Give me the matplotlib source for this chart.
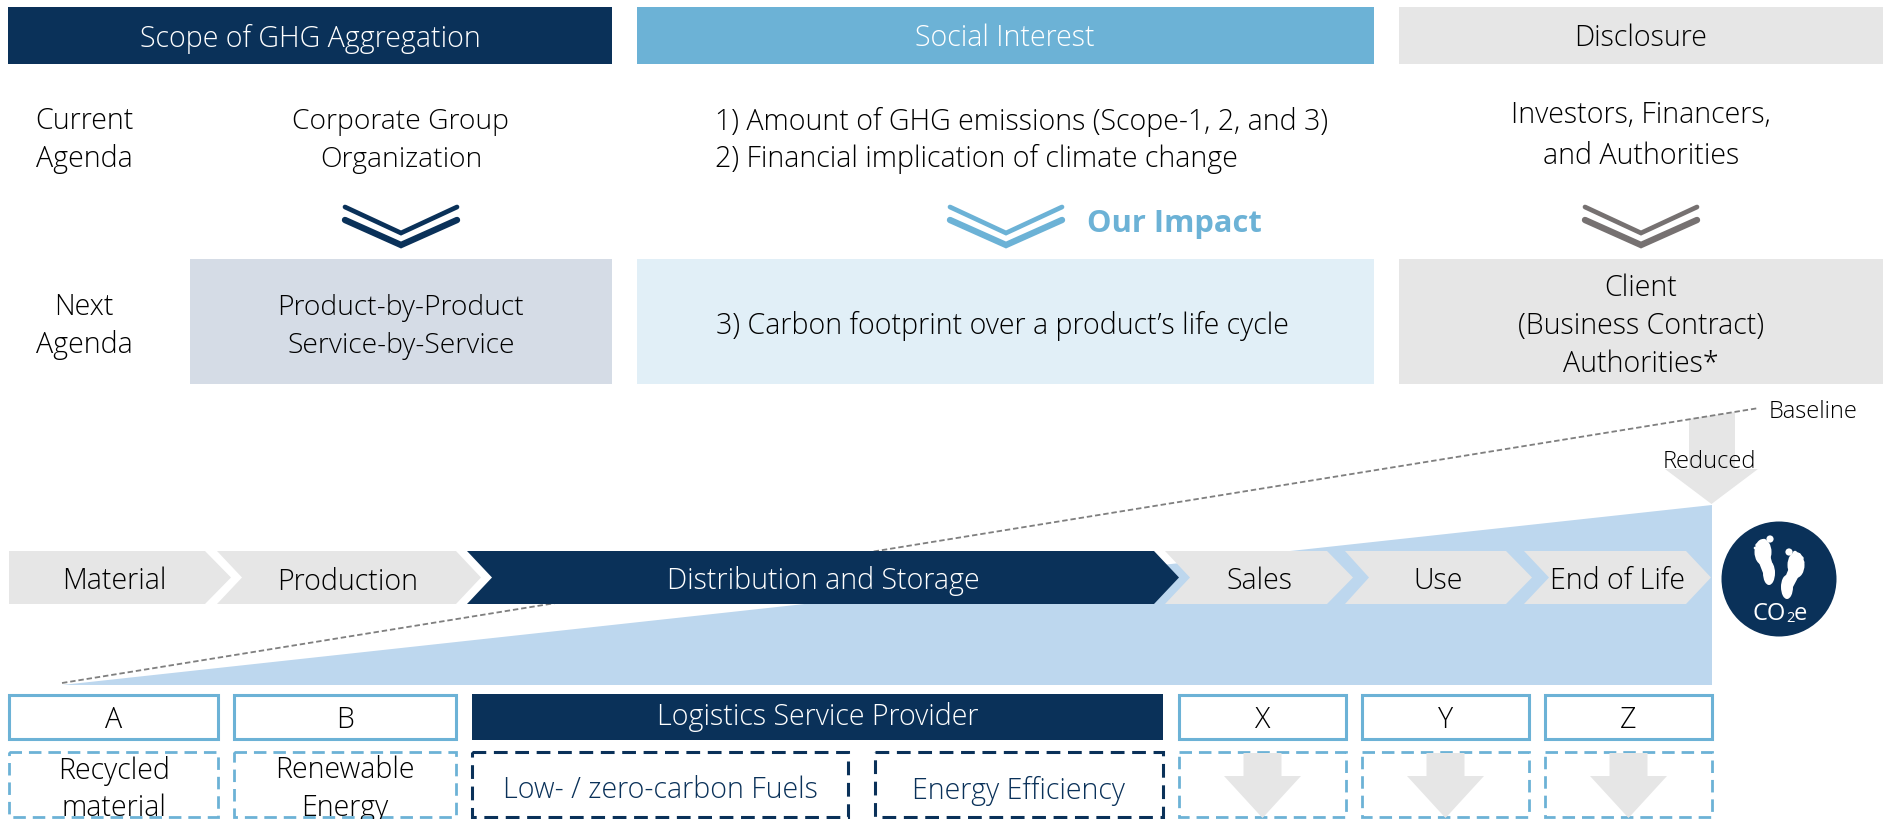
import matplotlib
matplotlib.use('Agg')
import matplotlib.pyplot as plt
from matplotlib.patches import Rectangle, Polygon, Circle, Ellipse

NAVY = '#0A3159'
SKY = '#6CB2D6'
GREY = '#E6E6E6'
AREA = '#BDD7EE'
INK = '#000000'

headers = ['Scope of GHG Aggregation', 'Social Interest', 'Disclosure']
row_names = [['Current', 'Agenda'], ['Next', 'Agenda']]
current = [['Corporate Group', 'Organization'],
           ['1) Amount of GHG emissions (Scope-1, 2, and 3)', '2) Financial implication of climate change'],
           ['Investors, Financers,', 'and Authorities']]
nextup = [['Product-by-Product', 'Service-by-Service'],
          ['3) Carbon footprint over a product\u2019s life cycle'],
          ['Client', '(Business Contract)', 'Authorities*']]
stages = ['Material', 'Production', 'Distribution and Storage', 'Sales', 'Use', 'End of Life']
actors = ['A', 'B', 'Logistics Service Provider', 'X', 'Y', 'Z']
levers = [['Recycled', 'material'], ['Renewable', 'Energy'], ['Low- / zero-carbon Fuels'], ['Energy Efficiency']]

plt.rcParams['font.family'] = ['Open Sans', 'DejaVu Sans']
plt.rcParams['font.weight'] = 'light'

fig = plt.figure(figsize=(18.87, 8.19), dpi=100)
ax = fig.add_axes([0, 0, 1, 1])
ax.set_xlim(0, 1887)
ax.set_ylim(819, 0)
ax.axis('off')


def box(x0, y0, x1, y1, fc, ec='none', lw=0, ls='-', z=2):
    ax.add_patch(Rectangle((x0, y0), x1 - x0, y1 - y0, fc=fc, ec=ec, lw=lw, ls=ls, zorder=z))


def label(x, ys, lines, color=INK, size=20.6, ha='center'):
    for y, s in zip(ys, lines):
        # open sans sits a little high with va=center
        ax.text(x, y + 6.5, s, color=color, fontsize=size, ha=ha, va='center', zorder=6)


def chevron(cx, color):
    # two stacked v's, the lower one heavier
    ax.plot([cx - 56, cx, cx + 56], [207, 233, 207], color=color, lw=3.4, solid_capstyle='round',
            solid_joinstyle='miter', zorder=3)
    ax.plot([cx - 56, cx, cx + 56], [220, 245, 220], color=color, lw=4.6, solid_capstyle='round',
            solid_joinstyle='miter', zorder=3)


def stage(x0, notch, shoulder, tip, color):
    pts = [(x0, 551), (shoulder, 551), (tip, 577.5), (shoulder, 604), (x0, 604)]
    if notch:
        pts.append((notch, 577.5))
    ax.add_patch(Polygon(pts, fc=color, ec='none', zorder=4))


def down_arrow(cx, top, half_shaft, half_wing, neck, bottom):
    pts = [(cx - half_shaft, top), (cx + half_shaft, top), (cx + half_shaft, neck), (cx + half_wing, neck),
           (cx, bottom), (cx - half_wing, neck), (cx - half_shaft, neck)]
    ax.add_patch(Polygon(pts, fc=GREY, ec='none', zorder=3))


# top block
box(8, 7, 612, 64, NAVY)
box(637, 7, 1374, 64, SKY)
box(1399, 7, 1883, 64, GREY)
label(310, [32], [headers[0]], 'white')
label(1005, [32], [headers[1]], 'white')
label(1641, [32], [headers[2]])

label(84, [115, 153], row_names[0])
label(401, [115, 153], current[0], size=20.3)
for y, s in zip([115, 152], current[1]):
    label(715, [y], [s], ha='left')
label(1641, [109, 150], current[2])

chevron(401, NAVY)
chevron(1006, SKY)
chevron(1641, '#767171')
ax.text(1087, 224, 'Our Impact', color=SKY, fontsize=22.2, fontweight='bold', ha='left', va='center', zorder=6)

box(190, 259, 612, 384, '#D5DCE6')
box(637, 259, 1374, 384, '#E1EFF7')
box(1399, 259, 1883, 384, GREY)
label(84, [301, 339], row_names[1])
label(401, [301, 339], nextup[0], size=20.3)
label(716, [319], nextup[1], ha='left')
label(1641, [282, 320, 358], nextup[2])

# life cycle footprint wedge
ax.add_patch(Polygon([(62, 685), (1712, 505), (1712, 685)], fc=AREA, ec='none', zorder=1))
ax.plot([62, 1759], [683, 408], color='#7F7F7F', lw=1.3, ls=(0, (3, 1.6)), zorder=2)
ax.add_patch(Polygon([(1689, 419), (1735, 412), (1735, 469), (1758, 469), (1711.5, 504), (1665, 469), (1689, 469)],
                     fc=GREY, ec='none', zorder=1.5))
label(1709, [455], ['Reduced'], size=17)
label(1769, [406], ['Baseline'], size=17, ha='left')

# value chain
stage(9, None, 205, 231, GREY)
stage(217, 242, 456, 481, GREY)
stage(467, 492, 1154, 1179, NAVY)
stage(1165, 1190, 1327, 1353, GREY)
stage(1345, 1369, 1506, 1532, GREY)
stage(1524, 1549, 1686, 1711, GREY)
label(114, [575], [stages[0]])
label(348, [576], [stages[1]])
label(823, [575], [stages[2]], 'white')
label(1259, [575], [stages[3]])
label(1438, [575], [stages[4]])
label(1618, [575], [stages[5]])

# co2 badge
ax.add_patch(Circle((1779, 579), 57.5, fc=NAVY, ec='none', zorder=4))
for ball, heel in [((1763, 552), (1769, 573)), ((1796, 565), (1787, 587))]:
    ax.add_patch(Ellipse(ball, 17, 26, fc='white', ec='none', zorder=5))
    ax.add_patch(Ellipse(heel, 12, 24, fc='white', ec='none', zorder=5))
    ax.add_patch(Polygon([(ball[0] - 7, ball[1] + 3), (ball[0] + 7, ball[1] + 3),
                          (heel[0] + 6, heel[1]), (heel[0] - 6, heel[1])], fc='white', ec='none', zorder=5))
for cx, cy, r in [(1770, 539, 3.6), (1764, 541, 2.2), (1760, 543, 1.9), (1757, 545, 1.6), (1755, 548, 1.3),
                  (1789, 552, 3.6), (1795, 553, 2.2), (1799, 555, 1.9), (1802, 558, 1.6), (1803, 562, 1.3)]:
    ax.add_patch(Circle((cx, cy), r, fc='white', ec='none', zorder=5))
ax.text(1786, 614, 'CO', color='white', fontsize=17, fontweight='normal', ha='right', va='center', zorder=6)
ax.text(1786, 618, '2', color='white', fontsize=10.5, fontweight='normal', ha='left', va='center', zorder=6)
ax.text(1794, 614, 'e', color='white', fontsize=17, fontweight='normal', ha='left', va='center', zorder=6)

# actors
spans = [(9, 218), (234, 456), (472, 1163), (1179, 1346), (1362, 1529), (1545, 1712)]
for i, (x0, x1) in enumerate(spans):
    if i == 2:
        box(x0, 694, x1, 740, NAVY)
        label((x0 + x1) / 2, [711], [actors[i]], 'white')
    else:
        box(x0, 695, x1, 739, 'white', SKY, 2.2)
        label((x0 + x1) / 2, [714], [actors[i]])

# levers, cut off by the bottom of the picture like the original
dash = (0, (4.5, 2.5))
box(9, 752, 218, 817, 'none', SKY, 2, dash)
box(234, 752, 456, 817, 'none', SKY, 2, dash)
box(472, 752, 848, 817, 'none', NAVY, 2.2, dash)
box(875, 752, 1163, 817, 'none', NAVY, 2.2, dash)
label(114, [764, 802], levers[0])
label(345, [764, 802], levers[1])
label(660, [784], levers[2], NAVY)
label(1019, [784], levers[3], NAVY)
for x0, x1 in spans[3:]:
    box(x0, 752, x1, 817, 'none', SKY, 2, dash)
    down_arrow((x0 + x1) / 2, 753, 19, 38.5, 776, 818)

fig.savefig('out.png', dpi=100)
